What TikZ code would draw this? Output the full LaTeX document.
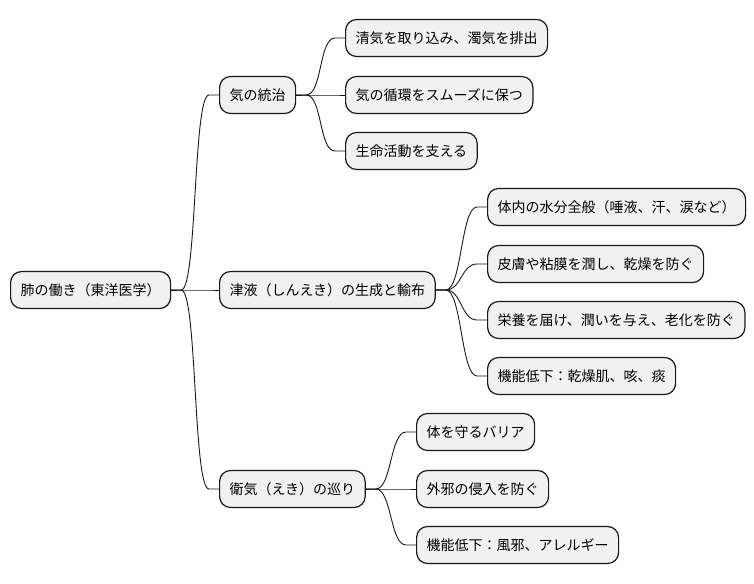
\documentclass[tikz,border=0pt]{standalone}
\usepackage{fontspec}
\setmainfont{Noto Sans CJK JP}
\usetikzlibrary{calc}
\definecolor{boxfill}{HTML}{F1F1F1}
\definecolor{boxline}{HTML}{181818}
\tikzset{
  mmnode/.style={draw=boxline, fill=boxfill, line width=1.2pt, rounded corners=11pt,
    anchor=west, minimum height=37pt, inner xsep=10pt, inner ysep=0pt,
    font=\fontsize{14pt}{16pt}\selectfont, text=black},
  mmlink/.style={draw=boxline, line width=0.9pt},
}
\newcommand{\mmconn}[2]{\draw[mmlink] (#1.east) -- ++(10,0) .. controls +(16,0) and +(-16,0) .. ($(#2.west)+(-10,0)$) -- (#2.west);}
\begin{document}
\begin{tikzpicture}[x=1pt,y=-1pt]
\useasboundingbox (0,0) rectangle (754,583);
\node[mmnode] (root) at (10,290) {肺の働き（東洋医学）};
\node[mmnode] (qi) at (219,95) {気の統治};
\node[mmnode] (jin) at (219,290) {津液（しんえき）の生成と輸布};
\node[mmnode] (wei) at (219,489) {衛気（えき）の巡り};
\node[mmnode] (qi1) at (345,38) {清気を取り込み、濁気を排出};
\node[mmnode] (qi2) at (345,95) {気の循環をスムーズに保つ};
\node[mmnode] (qi3) at (345,151) {生命活動を支える};
\node[mmnode] (jin1) at (487,207) {体内の水分全般（唾液、汗、涙など）};
\node[mmnode] (jin2) at (487,264) {皮膚や粘膜を潤し、乾燥を防ぐ};
\node[mmnode] (jin3) at (487,320) {栄養を届け、潤いを与え、老化を防ぐ};
\node[mmnode] (jin4) at (487,376) {機能低下：乾燥肌、咳、痰};
\node[mmnode] (wei1) at (416,432) {体を守るバリア};
\node[mmnode] (wei2) at (416,489) {外邪の侵入を防ぐ};
\node[mmnode] (wei3) at (416,545) {機能低下：風邪、アレルギー};
\mmconn{root}{qi}
\mmconn{root}{jin}
\mmconn{root}{wei}
\mmconn{qi}{qi1}
\mmconn{qi}{qi2}
\mmconn{qi}{qi3}
\mmconn{jin}{jin1}
\mmconn{jin}{jin2}
\mmconn{jin}{jin3}
\mmconn{jin}{jin4}
\mmconn{wei}{wei1}
\mmconn{wei}{wei2}
\mmconn{wei}{wei3}
\end{tikzpicture}
\end{document}
